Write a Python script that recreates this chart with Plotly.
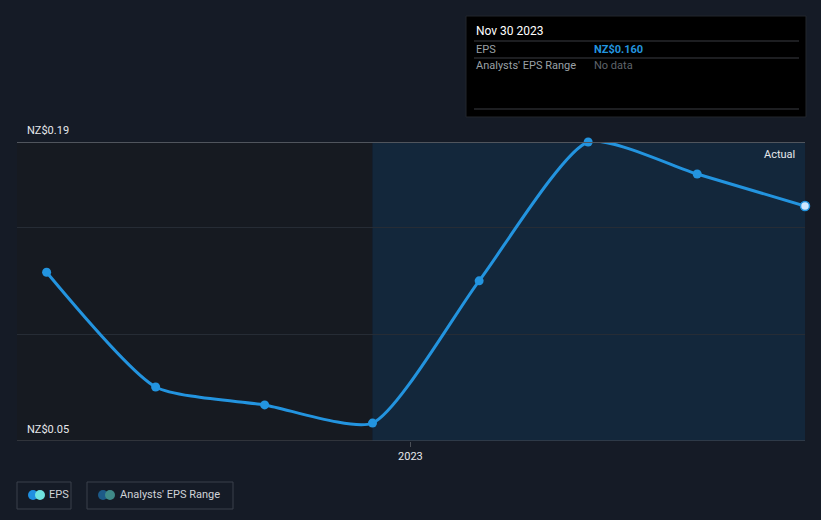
import plotly.graph_objects as go

dates = ["2022-02-28", "2022-05-31", "2022-08-31", "2022-11-30",
         "2023-02-28", "2023-05-31", "2023-08-31", "2023-11-30"]
eps = [0.129, 0.0753, 0.0669, 0.0584, 0.125, 0.190, 0.175, 0.160]
y_grid = [0.05, 0.10, 0.15, 0.19]
y_labels = {0.19: "NZ$0.19", 0.05: "NZ$0.05"}
x_range = ["2022-02-03", "2023-11-30"]
split_date = "2022-11-30"

W, H = 821, 520
L, R, T, B = 17, 805, 142, 441

def px(xp):
    return (xp - L) / (R - L)

def py(yp):
    return (B - yp) / (B - T)

BLUE = "#2394df"
BG = "#151b26"
FONT = "Roboto, 'Open Sans', sans-serif"

fig = go.Figure()

fig.add_trace(go.Scatter(
    x=dates, y=eps, mode="lines+markers",
    line=dict(color=BLUE, width=3, shape="spline", smoothing=0.6),
    marker=dict(size=9, color=[BLUE] * (len(eps) - 1) + ["#cfe8ff"],
                line=dict(color=BLUE, width=[0] * (len(eps) - 1) + [1.5])),
    cliponaxis=False, showlegend=False, hoverinfo="skip"))

shapes = []
# past region (darker)
shapes.append(dict(type="rect", xref="x", yref="y", x0=x_range[0], x1=split_date, y0=0.05, y1=0.19,
                   fillcolor="#161a21", line=dict(width=0), layer="below"))
# forecast region (blue)
shapes.append(dict(type="rect", xref="x", yref="y", x0=split_date, x1=x_range[1],
                   y0=0.05, y1=0.19, fillcolor="#13273b", line=dict(width=0), layer="below"))
# top and bottom lines
shapes.append(dict(type="line", xref="paper", yref="paper", x0=0, x1=1, y0=py(142.5), y1=py(142.5),
                   line=dict(color="#50555d", width=1), layer="above"))
shapes.append(dict(type="line", xref="paper", yref="y", x0=0, x1=1, y0=0.05, y1=0.05,
                   line=dict(color="#4a4f57", width=1), layer="above"))

# tooltip box
shapes.append(dict(type="rect", xref="paper", yref="paper", x0=px(466), x1=px(806),
                   y0=py(117), y1=py(16), fillcolor="#000000",
                   line=dict(color="#22262c", width=1), layer="above"))
for yl in (41, 58, 109):
    shapes.append(dict(type="line", xref="paper", yref="paper", x0=px(474), x1=px(799),
                       y0=py(yl), y1=py(yl), line=dict(color="#3a3d42", width=1), layer="above"))

# legend boxes
shapes.append(dict(type="rect", xref="paper", yref="paper", x0=px(17), x1=px(71),
                   y0=py(509), y1=py(482), line=dict(color="#3b414b", width=1),
                   fillcolor="rgba(0,0,0,0)"))
shapes.append(dict(type="rect", xref="paper", yref="paper", x0=px(87), x1=px(233),
                   y0=py(509), y1=py(482), line=dict(color="#3b414b", width=1),
                   fillcolor="rgba(0,0,0,0)"))
# legend icons
def dot(cx, cy, r, col):
    return dict(type="circle", xref="paper", yref="paper", x0=px(cx - r), x1=px(cx + r),
                y0=py(cy + r), y1=py(cy - r), fillcolor=col, line=dict(width=0))
shapes += [dot(33, 495, 5, "#1f8fe0"), dot(40, 495, 5, "#6fe3df"),
           dot(103, 495, 5, "#1d5a88"), dot(110, 495, 5, "#3f8a88")]

annotations = []
for v, t in y_labels.items():
    annotations.append(dict(xref="paper", yref="y", x=px(25), y=v, text=t, showarrow=False,
                            xanchor="left", yanchor="bottom", yshift=3,
                            font=dict(color="#e6e8eb", size=11, family=FONT)))
annotations.append(dict(xref="paper", yref="paper", x=px(797), y=py(154), text="Actual",
                        showarrow=False, xanchor="right", yanchor="middle",
                        font=dict(color="#e6e8eb", size=11, family=FONT)))
# tooltip text
annotations += [
    dict(xref="paper", yref="paper", x=px(474), y=py(31), text="Nov 30 2023", showarrow=False,
         xanchor="left", yanchor="middle", font=dict(color="#ffffff", size=12, family=FONT)),
    dict(xref="paper", yref="paper", x=px(474), y=py(49), text="EPS", showarrow=False,
         xanchor="left", yanchor="middle", font=dict(color="#9aa0a6", size=11, family=FONT)),
    dict(xref="paper", yref="paper", x=px(592), y=py(49), text="<b>NZ$0.160</b>", showarrow=False,
         xanchor="left", yanchor="middle", font=dict(color=BLUE, size=11, family=FONT)),
    dict(xref="paper", yref="paper", x=px(474), y=py(66), text="Analysts' EPS Range", showarrow=False,
         xanchor="left", yanchor="middle", font=dict(color="#9aa0a6", size=11, family=FONT)),
    dict(xref="paper", yref="paper", x=px(592), y=py(66), text="No data", showarrow=False,
         xanchor="left", yanchor="middle", font=dict(color="#5f646b", size=11, family=FONT)),
]
# legend text
annotations += [
    dict(xref="paper", yref="paper", x=px(47), y=py(495), text="EPS", showarrow=False,
         xanchor="left", yanchor="middle", font=dict(color="#d0d3d8", size=11, family=FONT)),
    dict(xref="paper", yref="paper", x=px(118), y=py(495), text="Analysts' EPS Range", showarrow=False,
         xanchor="left", yanchor="middle", font=dict(color="#d0d3d8", size=11, family=FONT)),
]

fig.update_layout(
    width=W, height=H, autosize=False,
    margin=dict(l=L, r=W - R, t=T, b=H - B, pad=0),
    paper_bgcolor=BG, plot_bgcolor=BG,
    shapes=shapes, annotations=annotations, showlegend=False,
    xaxis=dict(type="date", range=x_range, tickvals=["2023-01-01"], ticktext=["2023"],
               showgrid=False, zeroline=False, showline=False, ticks="outside", ticklen=5,
               tickcolor="#4a4f57", tickfont=dict(color="#e6e8eb", size=11, family=FONT),
               fixedrange=True),
    yaxis=dict(range=[0.05, 0.19], tickvals=y_grid, showticklabels=False, showgrid=True,
               gridcolor="#262c35", gridwidth=1, zeroline=False, showline=False, fixedrange=True),
)

fig.write_html("out.html", config=dict(displayModeBar=False))
